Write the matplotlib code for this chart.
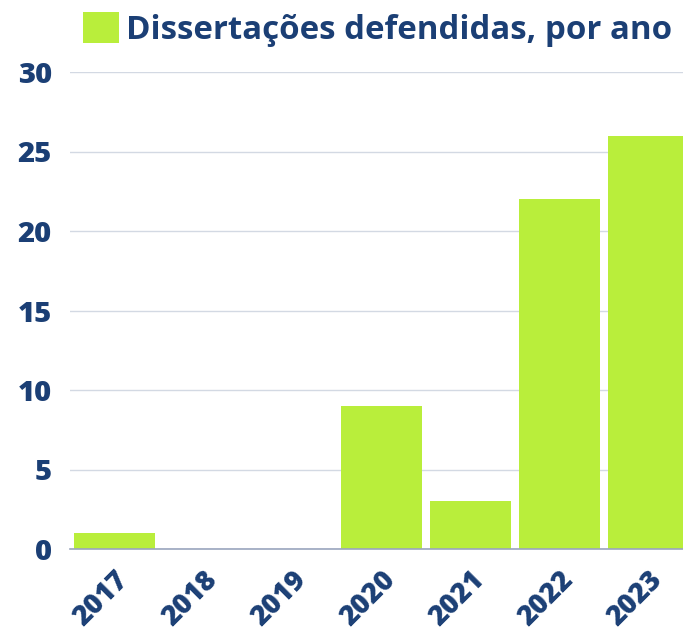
import matplotlib
matplotlib.use("Agg")
import matplotlib.pyplot as plt
from matplotlib.patches import Patch
from matplotlib.transforms import ScaledTranslation

years = ["2017", "2018", "2019", "2020", "2021", "2022", "2023"]
counts = [1, 0, 0, 9, 3, 22, 26]
series_label = "Dissertações defendidas, por ano"
yticks = [0, 5, 10, 15, 20, 25, 30]

BAR = "#b9ee3b"
TXT = "#1b3f75"

plt.rcParams['font.family'] = ['Open Sans', 'DejaVu Sans']

fig = plt.figure(figsize=(6.83, 6.36), dpi=100)
ax = fig.add_axes([70/683, 1-549/636, 623/683, 477/636])

x = list(range(len(years)))
ax.bar(x, counts, width=0.91, color=BAR, zorder=3)

ax.set_xlim(-0.5, len(years)-0.5)
ax.set_ylim(0, 30)
ax.set_yticks(yticks)
ax.set_yticklabels([str(v) for v in yticks], fontsize=21, fontweight=800, color=TXT)
ax.set_xticks(x)
ax.set_xticklabels(years, fontsize=20, fontweight=800, color=TXT,
                   rotation=45, ha='right', va='center', rotation_mode='anchor')
ax.tick_params(axis='x', length=0, pad=19)
ax.tick_params(axis='y', length=0, pad=13)
off = ScaledTranslation(10/100, 0, fig.dpi_scale_trans)
for lab in ax.get_xticklabels():
    lab.set_transform(lab.get_transform() + off)

ax.grid(axis='y', color='#d3d9e3', linewidth=1, zorder=0)
for s in ['top', 'right', 'left']:
    ax.spines[s].set_visible(False)
ax.spines['bottom'].set_color('#9aa5bd')
ax.spines['bottom'].set_linewidth(1.2)
ax.spines['bottom'].set_zorder(4)

handle = Patch(facecolor=BAR, edgecolor='none')
fig.legend([handle], [series_label], loc='upper left',
           bbox_to_anchor=(76/683, 1-5/636), frameon=False,
           prop={'size': 23.8, 'weight': 'bold'}, labelcolor=TXT,
           handlelength=1.1, handleheight=1.1, handletextpad=0.2,
           borderaxespad=0, borderpad=0.2)

fig.savefig("out.png", dpi=100)
